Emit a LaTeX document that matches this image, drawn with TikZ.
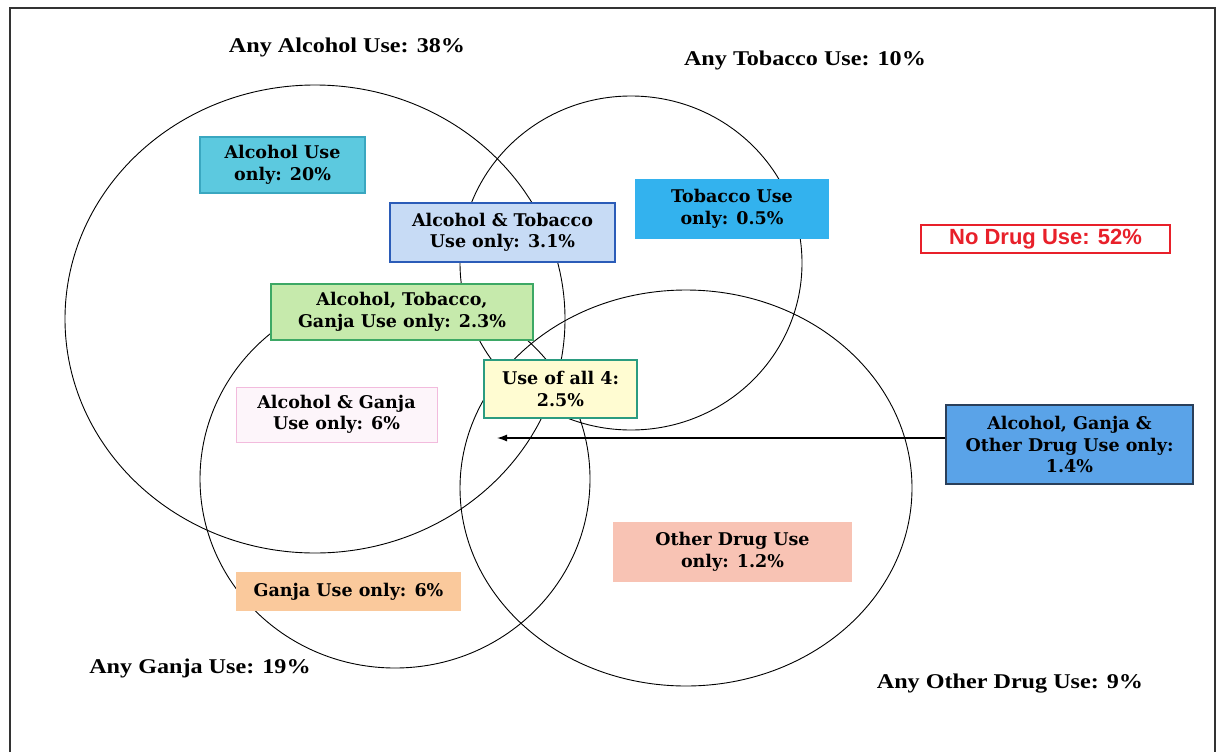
\documentclass[tikz,border=0pt]{standalone}
\usepackage{fontspec}
\setmainfont{DejaVu Serif}
\newfontfamily\labfont[FakeStretch=1.15]{Liberation Serif}
\newfontfamily\sansfont{Liberation Sans}
\usetikzlibrary{shapes.geometric,arrows.meta}
\definecolor{cAlc}{HTML}{5CC9DF}
\definecolor{cAlcB}{HTML}{3AA7C0}
\definecolor{cAT}{HTML}{C7DBF5}
\definecolor{cATB}{HTML}{2B5CB8}
\definecolor{cTob}{HTML}{33B2EE}
\definecolor{cATG}{HTML}{C6EAAC}
\definecolor{cATGB}{HTML}{3DA865}
\definecolor{cAll}{HTML}{FFFCD2}
\definecolor{cAllB}{HTML}{2B9C80}
\definecolor{cAG}{HTML}{FDF5FA}
\definecolor{cAGB}{HTML}{F2BBDD}
\definecolor{cAGO}{HTML}{5AA3E8}
\definecolor{cAGOB}{HTML}{2A3F5A}
\definecolor{cOth}{HTML}{F8C3B4}
\definecolor{cGan}{HTML}{FAC99C}
\definecolor{cRed}{HTML}{E8202A}
\tikzset{
  box/.style={draw, line width=1.2pt, align=center, inner sep=0pt,
    font=\fontsize{17.5}{21.5}\selectfont\bfseries},
  venn/.style={draw, ellipse, inner sep=0pt, line width=0.9pt},
  lab/.style={font=\labfont\fontsize{21}{24}\selectfont\bfseries, inner sep=0pt},
}
\begin{document}
\begin{tikzpicture}[x=1pt,y=-1pt]
\useasboundingbox (0,0) rectangle (1217,752);
% frame
\draw[line width=1.8pt, black!80] (10,752) -- (10,8) -- (1215,8) -- (1215,752);
% circles
\node[venn, minimum width=500pt, minimum height=468pt] (calc) at (315,319) {};
\node[venn, minimum width=342pt, minimum height=334pt] (ctob) at (631,263) {};
\node[venn, minimum width=390pt, minimum height=378pt] (cgan) at (395,479) {};
\node[venn, minimum width=452pt, minimum height=396pt] (coth) at (686,488) {};
% outer labels
\node[lab] (lalc) at (347,47) {Any Alcohol Use: 38\%};
\node[lab] (ltob) at (805,60) {Any Tobacco Use: 10\%};
\node[lab] (lgan) at (200,668) {Any Ganja Use: 19\%};
\node[lab] (loth) at (1010,684) {Any Other Drug Use: 9\%};
% boxes
\node[box, fill=cAlc, draw=cAlcB, minimum width=165pt, minimum height=56pt] (alc) at (282.5,165) {Alcohol Use\\only: 20\%};
\node[box, fill=cAT, draw=cATB, minimum width=225pt, minimum height=59pt] (at) at (502.5,232.5) {Alcohol \& Tobacco\\Use only: 3.1\%};
\node[box, fill=cTob, draw=cTob, minimum width=192pt, minimum height=58pt] (tob) at (732,209) {Tobacco Use\\only: 0.5\%};
\node[box, fill=white, draw=cRed, line width=1.5pt, text=cRed, font=\sansfont\fontsize{22}{24}\selectfont\bfseries, minimum width=249pt, minimum height=28pt] (nod) at (1045.5,239) {No Drug Use: 52\%};
\node[box, fill=cATG, draw=cATGB, minimum width=262pt, minimum height=56pt] (atg) at (402,312) {Alcohol, Tobacco,\\Ganja Use only: 2.3\%};
\node[box, fill=cAll, draw=cAllB, minimum width=153pt, minimum height=58pt] (all) at (560.5,389) {Use of all 4:\\2.5\%};
\node[box, fill=cAG, draw=cAGB, line width=0.8pt, minimum width=201pt, minimum height=55pt] (ag) at (336.5,414.5) {Alcohol \& Ganja\\Use only: 6\%};
\node[box, fill=cAGO, draw=cAGOB, minimum width=247pt, minimum height=79pt] (ago) at (1069.5,444.5) {Alcohol, Ganja \&\\Other Drug Use only:\\1.4\%};
\node[box, fill=cOth, draw=cOth, minimum width=237pt, minimum height=58pt] (oth) at (732.5,552) {Other Drug Use\\only: 1.2\%};
\node[box, fill=cGan, draw=cGan, minimum width=223pt, minimum height=37pt] (gan) at (348.5,591.5) {Ganja Use only: 6\%};
% arrow
\coordinate (tip) at (497,438);
\draw[line width=1.3pt, -{Latex[length=10pt,width=7pt]}] (ago.west |- 0,438) -- (tip);
\end{tikzpicture}
\end{document}
